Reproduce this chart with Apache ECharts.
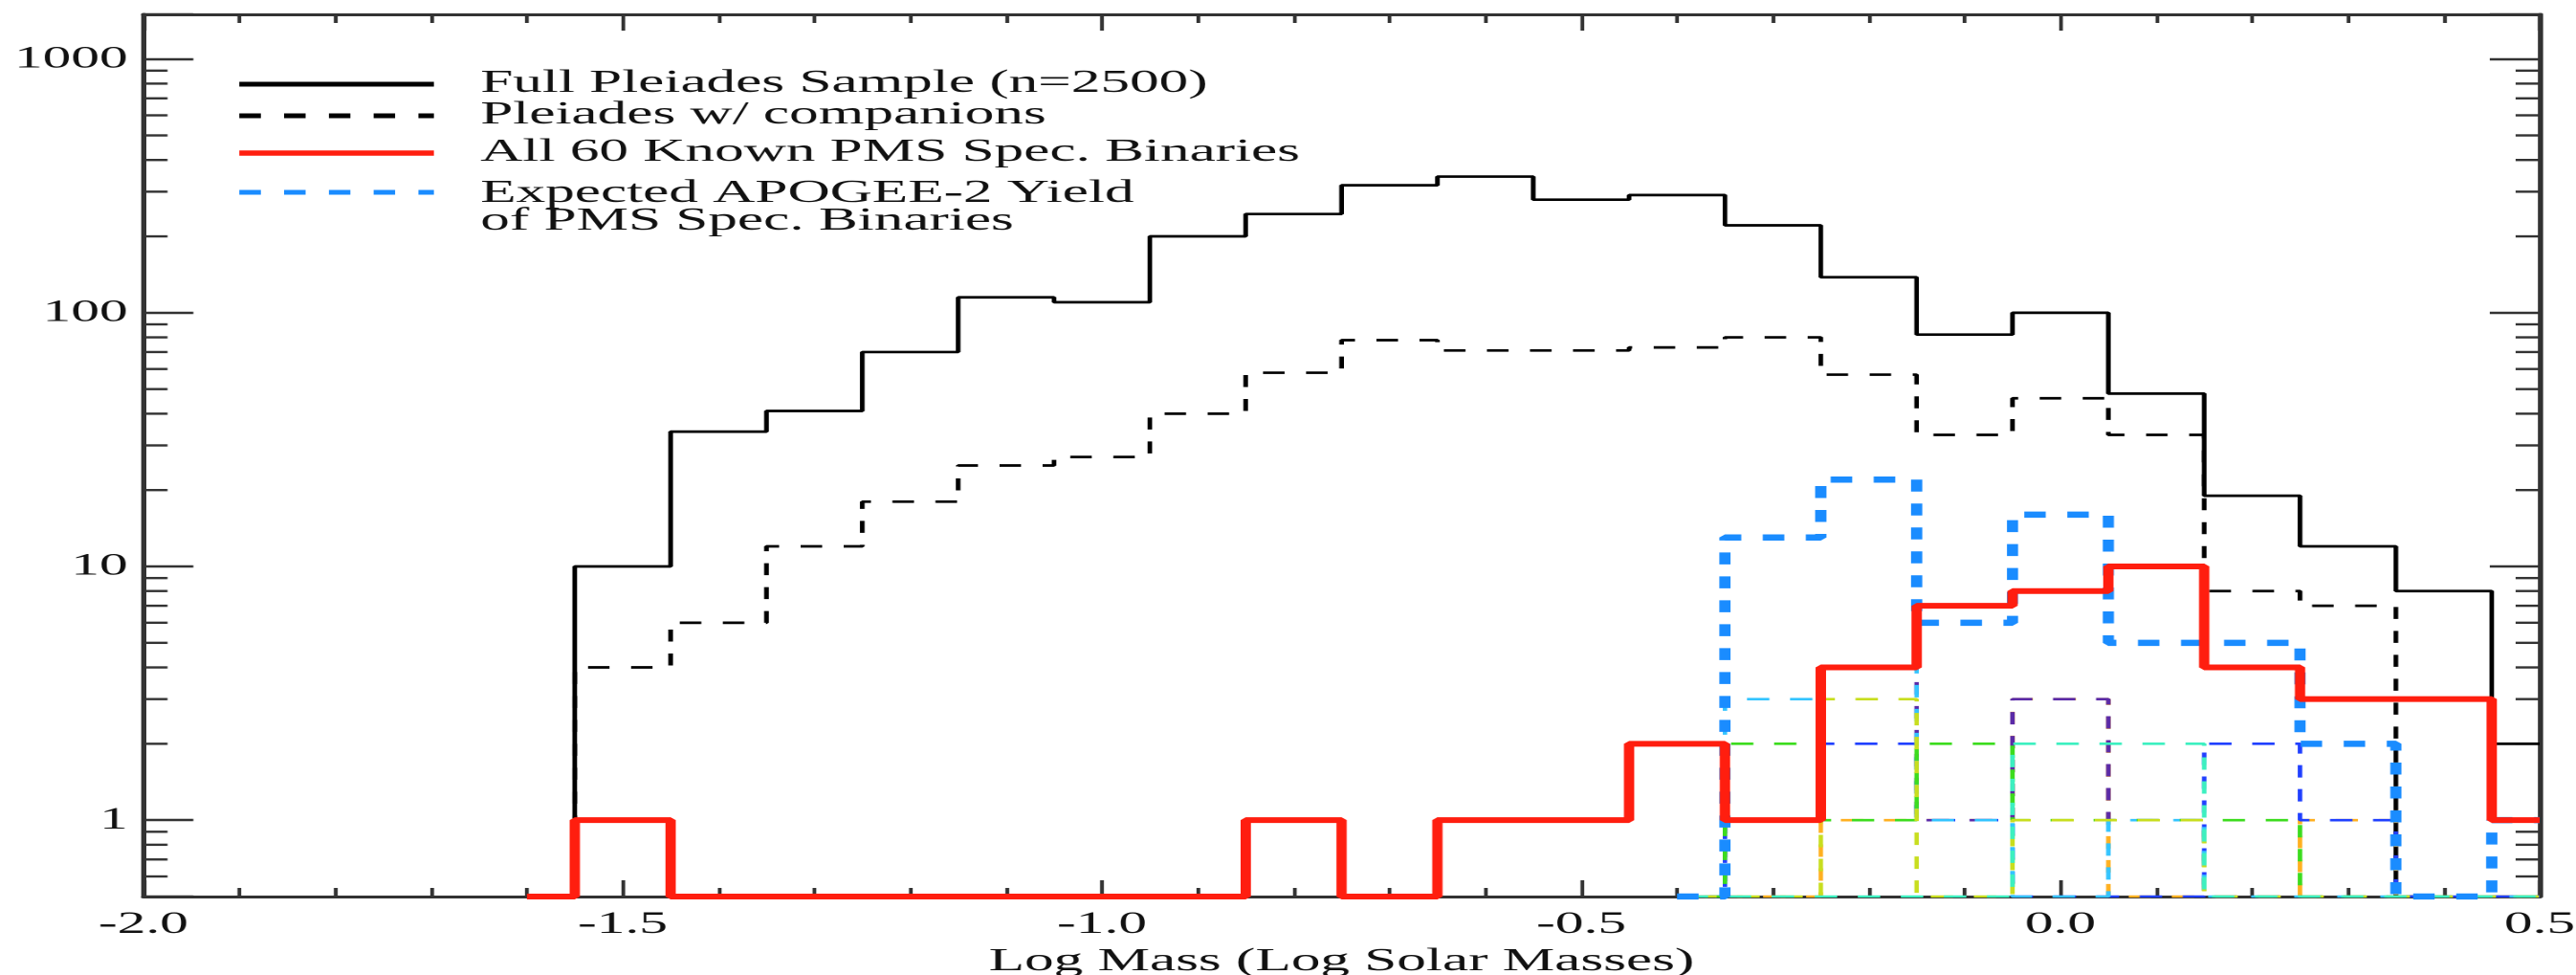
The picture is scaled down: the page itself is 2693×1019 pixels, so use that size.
<!DOCTYPE html>
<html>
<head>
<meta charset="utf-8">
<script src="https://cdn.jsdelivr.net/npm/echarts@6/dist/echarts.min.js"></script>
<style>
  html, body { margin: 0; padding: 0; background: #ffffff; overflow: hidden; width: 2693px; height: 1019px; }
  #chart { width: 1496px; height: 1019px; transform: scaleX(1.8); transform-origin: 0 0; }
</style>
</head>
<body>
<div id="chart"></div>
<script>
// ---------------- data ----------------
const PLEIADES_BINS = [-1.6, -1.5, -1.4, -1.3, -1.2, -1.1, -1.0, -0.9, -0.8, -0.7, -0.6, -0.5, -0.4, -0.3, -0.2, -0.1, 0.0, 0.1, 0.2, 0.3, 0.4, 0.5];
const FULL_SAMPLE     = [0, 10, 34, 41, 70, 115, 110, 200, 245, 318, 344, 279, 291, 221, 138, 82, 100, 48, 19, 12, 8, 2];
const WITH_COMPANIONS = [0, 4, 6, 12, 18, 25, 27, 40, 58, 78, 71, 71, 73, 80, 57, 33, 46, 33, 8, 7, 0];
const KNOWN_PMS_SB    = [0, 1, 0, 0, 0, 0, 0, 0, 1, 0, 1, 1, 2, 1, 4, 7, 8, 10, 4, 3, 3, 1];

const APOGEE_BINS  = [-0.4, -0.3, -0.2, -0.1, 0.0, 0.1, 0.2, 0.3, 0.4, 0.5];
const APOGEE_YIELD = [0, 13, 22, 6, 16, 5, 5, 2, 0, 1];
// individual thin dashed components of the expected yield
const COMP_ORANGE    = [0, 0, 1, 1, 3, 0, 0, 1, 0, 0];
const COMP_PURPLE    = [0, 1, 4, 1, 3, 1, 0, 0, 0, 0];
const COMP_BLUE      = [0, 1, 2, 1, 0, 0, 2, 1, 0, 0];
const COMP_LIGHTBLUE = [0, 3, 4, 1, 0, 1, 0, 0, 0, 0];
const COMP_GREEN     = [0, 2, 1, 2, 1, 1, 1, 0, 0, 0];
const COMP_LIME      = [0, 0, 3, 0, 1, 1, 0, 0, 0, 0];
const COMP_AQUA      = [0, 0, 0, 0, 2, 2, 0, 0, 0, 0];

const Y_MAJOR_LABELS = [1, 10, 100, 1000];
const Y_MINOR_TICKS = [0.6, 0.7, 0.8, 0.9, 2, 3, 4, 5, 6, 7, 8, 9, 20, 30, 40, 50, 60, 70, 80, 90, 200, 300, 400, 500, 600, 700, 800, 900];

const LEGEND_LABELS = ['Full Pleiades Sample (n=2500)', 'Pleiades w/ companions', 'All 60 Known PMS Spec. Binaries', 'Expected APOGEE-2 Yield', 'of PMS Spec. Binaries'];
const X_TITLE = 'Log Mass (Log Solar Masses)';

// ---------------- layout / style ----------------
const X_MIN = -2.0, X_MAX = 0.5, Y_MIN = 0.5, Y_MAX = 1500;
const FONT = '"Liberation Serif", "Times New Roman", serif';
const AXIS_COLOR = '#333333';
const Y_MINOR_LEN = 14;

function pairs(bins, vals) {
  return vals.map((v, i) => [bins[i], Math.max(v, Y_MIN)]);
}
function hist(name, bins, vals, lineStyle, z) {
  return {
    name, type: 'line', step: 'middle', data: pairs(bins, vals),
    symbol: 'none', showSymbol: false, lineStyle, z, silent: true, clip: true,
    xAxisIndex: 0, yAxisIndex: 0
  };
}
const thinDash = [13, 12];
const comps = [
  ['component orange', COMP_ORANGE, '#ffb020', 0],
  ['component purple', COMP_PURPLE, '#5a2aa8', 6],
  ['component blue', COMP_BLUE, '#2040ff', 12],
  ['component light blue', COMP_LIGHTBLUE, '#33c4ff', 3],
  ['component green', COMP_GREEN, '#3cdc1e', 9],
  ['component lime', COMP_LIME, '#c8de1e', 15],
  ['component aqua', COMP_AQUA, '#3cf0c0', 20]
];

const series = [];
series.push(hist('Full Pleiades Sample (n=2500)', PLEIADES_BINS, FULL_SAMPLE, { color: '#000', width: 2.7 }, 3));
series.push(hist('Pleiades w/ companions', PLEIADES_BINS.slice(0, WITH_COMPANIONS.length), WITH_COMPANIONS, { color: '#000', width: 2.7, type: [12.5, 12.5] }, 4));
comps.forEach(c => {
  series.push(hist(c[0], APOGEE_BINS, c[1], { color: c[2], width: 2.6, type: thinDash, dashOffset: c[3] }, 5));
});
series.push(hist('Expected APOGEE-2 Yield of PMS Spec. Binaries', APOGEE_BINS, APOGEE_YIELD, { color: '#1a8cff', width: 6.5, type: [12.5, 12.5] }, 6));
series.push(hist('All 60 Known PMS Spec. Binaries', PLEIADES_BINS, KNOWN_PMS_SB, { color: '#ff1e0f', width: 6 }, 7));

// minor log ticks on left and right y axes
series.push({
  type: 'custom', silent: true, clip: false, z: 1,
  xAxisIndex: 0, yAxisIndex: 0,
  data: Y_MINOR_TICKS.map(v => [X_MIN, v]),
  encode: { x: 0, y: 1 },
  renderItem: function (params, api) {
    const v = api.value(1);
    const l = api.coord([X_MIN, v]);
    const r = api.coord([X_MAX, v]);
    const st = { stroke: AXIS_COLOR, lineWidth: 2.4 };
    return {
      type: 'group', children: [
        { type: 'line', shape: { x1: l[0], y1: l[1], x2: l[0] + Y_MINOR_LEN, y2: l[1] }, style: st },
        { type: 'line', shape: { x1: r[0], y1: r[1], x2: r[0] - Y_MINOR_LEN, y2: r[1] }, style: st }
      ]
    };
  }
});

function isMajor(v) {
  return Y_MAJOR_LABELS.some(m => Math.abs(Math.log10(v) - Math.log10(m)) < 1e-6);
}

const xAxisBase = {
  type: 'value', min: X_MIN, max: X_MAX, interval: 0.5,
  axisLine: { show: true, onZero: false, lineStyle: { color: AXIS_COLOR, width: 3 } },
  axisTick: { show: true, inside: true, length: 17, lineStyle: { color: AXIS_COLOR, width: 2.2 } },
  minorTick: { show: true, splitNumber: 5, length: 9, lineStyle: { color: AXIS_COLOR, width: 2.2 } },
  splitLine: { show: false }, minorSplitLine: { show: false }
};
const yAxisBase = {
  type: 'log', logBase: 10, min: Y_MIN, max: Y_MAX,
  axisLine: { show: true, onZero: false, lineStyle: { color: AXIS_COLOR, width: 3 } },
  axisTick: { show: true, inside: true, length: 29, lineStyle: { color: AXIS_COLOR, width: 2.4 } },
  minorTick: { show: false },
  splitLine: { show: false }
};

const legendY = [87, 120, 159, 202, 231];
const LX1 = 139, LX2 = 252, TX = 279;
const legendFont = '34px ' + FONT;
const graphic = [
  { type: 'line', shape: { x1: LX1, y1: 88, x2: LX2, y2: 88 }, style: { stroke: '#000', lineWidth: 5 }, z: 100 },
  { type: 'line', shape: { x1: LX1, y1: 121, x2: LX2, y2: 121 }, style: { stroke: '#000', lineWidth: 5, lineDash: [12.5, 13.5] }, z: 100 },
  { type: 'line', shape: { x1: LX1, y1: 160, x2: LX2, y2: 160 }, style: { stroke: '#ff1e0f', lineWidth: 5.5 }, z: 100 },
  { type: 'line', shape: { x1: LX1, y1: 201, x2: LX2, y2: 201 }, style: { stroke: '#1a8cff', lineWidth: 5, lineDash: [12.5, 13.5] }, z: 100 }
];
LEGEND_LABELS.forEach((t, i) => {
  graphic.push({ type: 'text', x: TX, y: legendY[i], z: 100,
    style: { text: t, font: legendFont, fill: '#111', verticalAlign: 'middle', align: 'left' } });
});

const option = {
  animation: false,
  backgroundColor: '#ffffff',
  grid: { left: 83.3, right: 21, top: 15, bottom: 82, containLabel: false, outerBoundsMode: 'none' },
  xAxis: [
    Object.assign({}, xAxisBase, {
      position: 'bottom',
      name: X_TITLE, nameLocation: 'middle', nameGap: 44,
      nameTextStyle: { fontFamily: FONT, fontSize: 34, color: '#111' },
      axisLabel: { show: true, margin: 13, fontFamily: FONT, fontSize: 33, color: '#111',
        formatter: v => v.toFixed(1) }
    }),
    Object.assign({}, xAxisBase, { position: 'top', axisLabel: { show: false } })
  ],
  yAxis: [
    Object.assign({}, yAxisBase, {
      position: 'left',
      axisLabel: { show: true, margin: 9, fontFamily: FONT, fontSize: 33, color: '#111',
        formatter: v => isMajor(v) ? String(Math.round(v)) : '' }
    }),
    Object.assign({}, yAxisBase, { position: 'right', axisLabel: { show: false } })
  ],
  graphic,
  series
};

const chart = echarts.init(document.getElementById('chart'), null, { renderer: 'canvas', devicePixelRatio: 2 });
chart.setOption(option);
</script>
</body>
</html>
